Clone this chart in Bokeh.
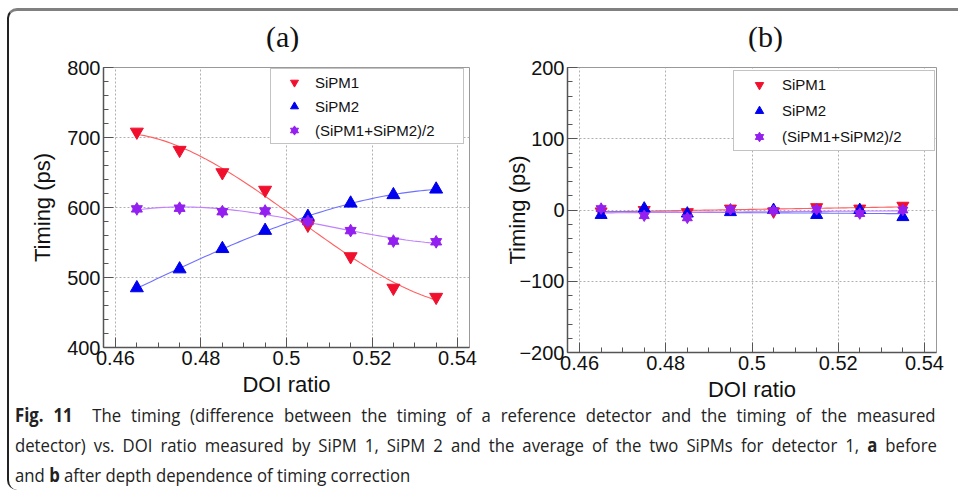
import numpy as np
from bokeh.plotting import figure
from bokeh.layouts import column, row
from bokeh.models import (Div, Legend, LegendItem, CustomJSTickFormatter,
                          FixedTicker, Range1d)
from bokeh.embed import file_html
from bokeh.resources import INLINE

# ---------------- data ----------------
doi = [0.465, 0.475, 0.485, 0.495, 0.505, 0.515, 0.525, 0.535]
a_sipm1 = [708, 682, 650, 625, 575, 530, 485, 472]
a_sipm2 = [485, 512, 541, 567, 587, 606, 618, 626]
a_avg = [598, 599, 594, 595, 580, 567, 552, 551]
b_sipm1 = [-2, 0, -3, 2, -2, 4, 2, 6]
b_sipm2 = [-7, 2, -5, -3, 0, -7, 0, -10]
b_avg = [2, -8, -11, 1, -1, 1, -5, 0]

x_ticks = [0.46, 0.48, 0.50, 0.52, 0.54]
x_minor = [round(0.46 + 0.005 * i, 3) for i in range(17)]
a_y_ticks = [400, 500, 600, 700, 800]
a_y_minor = list(range(400, 801, 20))
b_y_ticks = [-200, -100, 0, 100, 200]
b_y_minor = list(range(-200, 201, 20))

series_names = ["SiPM1", "SiPM2", "(SiPM1+SiPM2)/2"]
panel_titles = ["(a)", "(b)"]
RED, BLUE, PURPLE = "#f0102e", "#0000f0", "#9420f0"
RED_L, BLUE_L, PURPLE_L = "#ff6060", "#7070ff", "#c080ff"

fmt_code = "const v = Math.round(tick*1000)/1000; return v.toString().replace('-', '\\u2212');"

FONT = "Liberation Sans"


def make_panel(ylo, yhi, yt, ym, s1, s2, avg, fit_deg, W, H,
               bl, br, bt, bb, ylab_standoff, leg_loc, leg_w, leg_h,
               leg_sp, leg_gw, msize):
    p = figure(width=W, height=H, output_backend="svg", toolbar_location=None,
               x_range=Range1d(0.4572, 0.5428), y_range=Range1d(ylo, yhi),
               min_border_left=bl, min_border_right=br, min_border_top=bt,
               min_border_bottom=bb, title=None)

    p.xaxis.ticker = FixedTicker(ticks=x_ticks, minor_ticks=x_minor)
    p.yaxis.ticker = FixedTicker(ticks=yt, minor_ticks=ym)
    for ax in (p.xaxis[0], p.yaxis[0]):
        ax.formatter = CustomJSTickFormatter(code=fmt_code)
        ax.major_label_text_font = FONT
        ax.major_label_text_font_size = "20px"
        ax.major_label_text_color = "#111"
        ax.axis_label_text_font = FONT
        ax.axis_label_text_font_size = "22px"
        ax.axis_label_text_font_style = "normal"
        ax.axis_label_text_color = "#111"
        ax.major_tick_in = 10
        ax.major_tick_out = 0
        ax.minor_tick_in = 5
        ax.minor_tick_out = 0
        ax.axis_line_color = "#555"
        ax.axis_line_width = 1.5
        ax.major_tick_line_color = "#555"
        ax.minor_tick_line_color = "#555"
        ax.major_label_standoff = 3
    p.xaxis.axis_label = "DOI ratio"
    p.yaxis.axis_label = "Timing (ps)"
    p.yaxis.axis_label_standoff = ylab_standoff
    p.xaxis.axis_label_standoff = 4

    p.grid.grid_line_color = "#b0b0b0"
    p.grid.grid_line_dash = "2 2"
    p.grid.grid_line_width = 1
    p.outline_line_color = "#999"
    p.outline_line_width = 1

    xs = np.linspace(doi[0], doi[-1], 80)
    for ys, c in ((s1, RED_L), (s2, BLUE_L), (avg, PURPLE_L)):
        coef = np.polyfit(doi, ys, fit_deg)
        p.line(xs, np.polyval(coef, xs), line_color=c, line_width=1.1)

    r1 = p.scatter(doi, s1, marker="inverted_triangle", size=msize,
                   fill_color=RED, line_color=RED)
    r2 = p.scatter(doi, s2, marker="triangle", size=msize,
                   fill_color=BLUE, line_color=BLUE)
    r3a = p.scatter(doi, avg, marker="triangle", size=msize - 2,
                    fill_color=PURPLE, line_color=PURPLE)
    r3b = p.scatter(doi, avg, marker="inverted_triangle", size=msize - 2,
                    fill_color=PURPLE, line_color=PURPLE)

    leg = Legend(items=[LegendItem(label=series_names[0], renderers=[r1]),
                        LegendItem(label=series_names[1], renderers=[r2]),
                        LegendItem(label=series_names[2], renderers=[r3a, r3b])],
                 location=leg_loc, orientation="vertical")
    leg.label_text_font = FONT
    leg.label_text_font_size = "15px"
    leg.label_text_color = "#111"
    leg.label_height = leg_h
    leg.glyph_height = leg_h
    leg.glyph_width = leg_gw
    leg.label_width = leg_w
    leg.label_standoff = 1
    leg.spacing = leg_sp
    leg.padding = 3
    leg.margin = 0
    leg.border_line_color = "#888"
    leg.border_line_width = 1
    leg.background_fill_color = "white"
    leg.background_fill_alpha = 1
    p.add_layout(leg, "center")
    return p


pa = make_panel(400, 800, a_y_ticks, a_y_minor, a_sipm1, a_sipm2, a_avg, 3,
                470, 350, 94, 10, 8, 54, 9, (167, 203), 145, 20, 4, 40, 13)
pb = make_panel(-200, 200, b_y_ticks, b_y_minor, b_sipm1, b_sipm2, b_avg, 1,
                479, 355, 88, 22, 16, 48, -14, (166, 201), 149, 21, 5, 44, 12)

title_style = ("font-family:'Liberation Serif';font-size:30px;line-height:30px;"
               "color:#111;white-space:nowrap;padding-top:11px;")
ta = Div(width=470, height=40, margin=0,
         text=f'<div style="{title_style}padding-left:257px;">{panel_titles[0]}</div>')
tb = Div(width=479, height=40, margin=0,
         text=f'<div style="{title_style}padding-left:269px;">{panel_titles[1]}</div>')

line_style = "transform:scaleX(0.88);transform-origin:0 0;"
caption = Div(width=949, height=84, margin=0, text=f"""
<div style="font-family:'Open Sans';font-size:19px;color:#222;line-height:30px;white-space:nowrap;padding-left:6px;position:relative;top:-6px;">
<div style="{line_style}word-spacing:6.3px;"><b>Fig. 11</b>&nbsp;&nbsp;The timing (difference between the timing of a reference detector and the timing of the measured</div>
<div style="{line_style}word-spacing:4.2px;">detector) vs. DOI ratio measured by SiPM 1, SiPM 2 and the average of the two SiPMs for detector 1, <b>a</b> before</div>
<div style="{line_style}">and <b>b</b> after depth dependence of timing correction</div>
</div>
""")

layout = column(row(ta, tb), row(pa, pb), caption, margin=(8, 0, 0, 7),
                styles={"border-top": "3px solid #808080",
                        "border-left": "2px solid #222",
                        "border-top-left-radius": "10px",
                        "border-bottom-left-radius": "10px"})

open("out.html", "w").write(file_html(layout, INLINE))
